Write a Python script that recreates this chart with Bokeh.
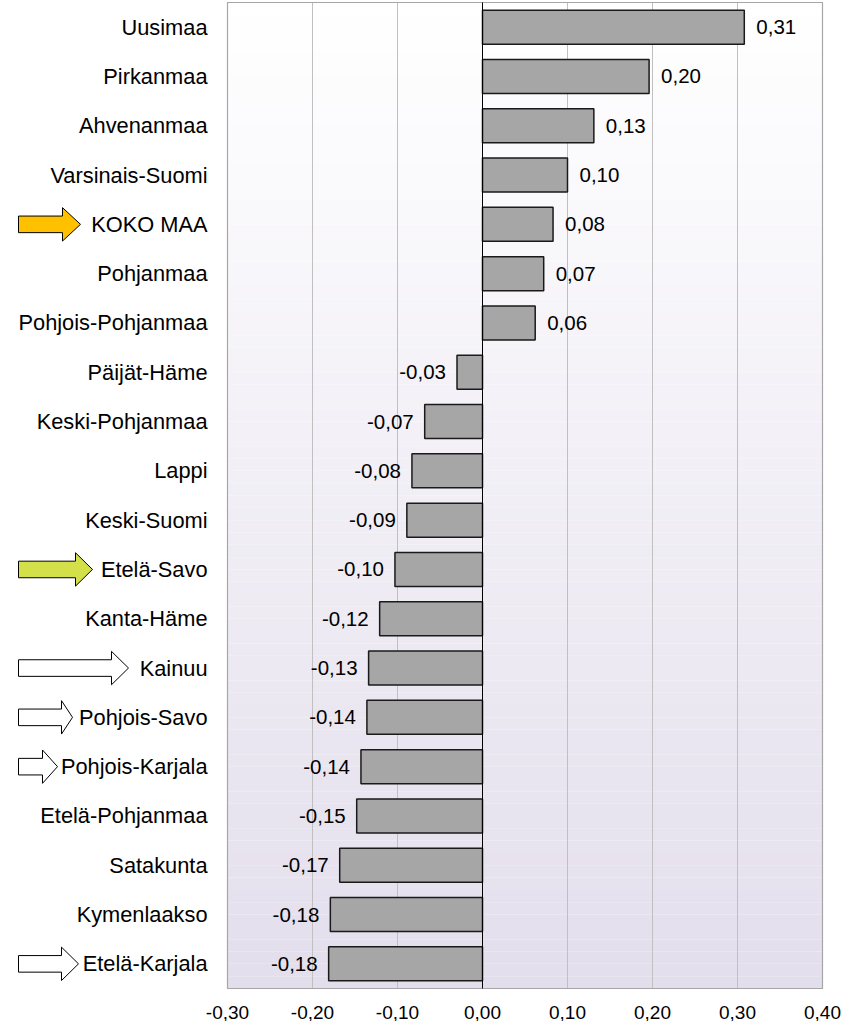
from bokeh.plotting import figure
from bokeh.models import Range1d, FixedTicker, CustomJSTickFormatter, ColumnDataSource
from bokeh.core.properties import value
from bokeh.embed import file_html
from bokeh.resources import INLINE

# ---------------- data ----------------
categories = ["Uusimaa", "Pirkanmaa", "Ahvenanmaa", "Varsinais-Suomi", "KOKO MAA",
              "Pohjanmaa", "Pohjois-Pohjanmaa", "Päijät-Häme", "Keski-Pohjanmaa", "Lappi",
              "Keski-Suomi", "Etelä-Savo", "Kanta-Häme", "Kainuu", "Pohjois-Savo",
              "Pohjois-Karjala", "Etelä-Pohjanmaa", "Satakunta", "Kymenlaakso", "Etelä-Karjala"]
values = [0.308, 0.196, 0.131, 0.100, 0.083, 0.072, 0.062, -0.030, -0.068, -0.083,
          -0.089, -0.103, -0.121, -0.134, -0.136, -0.143, -0.148, -0.168, -0.179, -0.181]
tick_values = [-0.30, -0.20, -0.10, 0.00, 0.10, 0.20, 0.30, 0.40]

arrow_targets = ["KOKO MAA", "Etelä-Savo", "Kainuu", "Pohjois-Savo", "Pohjois-Karjala", "Etelä-Karjala"]
arrow_colors = ["#FFC000", "#D4E04A", "#FFFFFF", "#FFFFFF", "#FFFFFF", "#FFFFFF"]

# ---------------- layout / style ----------------
W, H = 843, 1021
PX_PER_UNIT = 850.0
X0_PX = 227          # canvas x of -0.30
X_MIN, X_MAX = -0.30, 0.40
x_start = X_MIN - X0_PX / PX_PER_UNIT
x_end = x_start + W / PX_PER_UNIT


def px(xc):
    return X_MIN + (xc - X0_PX) / PX_PER_UNIT


arrow_tip_px = [80, 92, 128, 72, 57, 78]
arrow_head_px = [18, 17, 17, 11, 15, 17]
arrow_tail_px = 18

FONT = "Liberation Sans"
n = len(categories)
y_lo, y_hi = -0.5, n - 0.5
ROW_PX = 49.35
FRAME_H = 994.0
top_end = y_lo - 2 / ROW_PX
bot_start = y_hi + (FRAME_H - 989) / ROW_PX

p = figure(width=W, height=H, output_backend="svg", toolbar_location=None,
           x_range=Range1d(x_start, x_end), y_range=Range1d(bot_start, top_end),
           min_border_left=0, min_border_right=0, min_border_top=0, min_border_bottom=0)
p.outline_line_color = None
p.background_fill_color = "white"
p.border_fill_color = "white"
p.xgrid.visible = False
p.ygrid.visible = False
p.yaxis.visible = False

ax = p.xaxis[0]
ax.ticker = FixedTicker(ticks=tick_values)
ax.formatter = CustomJSTickFormatter(code="return tick.toFixed(2).replace('.', ',');")
ax.axis_line_color = None
ax.major_tick_line_color = None
ax.minor_tick_line_color = None
ax.major_label_standoff = 6
ax.major_label_text_font = FONT
ax.major_label_text_font_size = "19px"
ax.major_label_text_color = "#000000"

# background gradient of plot area (style)
steps = 80
top_c = (255, 255, 255)
bot_c = (227, 222, 236)
gb, gt, gc = [], [], []
for k in range(steps):
    t0 = y_lo + (y_hi - y_lo) * k / steps
    t1 = y_lo + (y_hi - y_lo) * (k + 1) / steps
    f = (k + 0.5) / steps
    col = tuple(int(round(top_c[j] + (bot_c[j] - top_c[j]) * f)) for j in range(3))
    gb.append(t0)
    gt.append(t1)
    gc.append("#%02x%02x%02x" % col)
p.quad(left=X_MIN, right=X_MAX, bottom=gb, top=gt, fill_color=gc, line_color=None)

# gridlines
p.segment(x0=tick_values, x1=tick_values, y0=[y_lo] * len(tick_values), y1=[y_hi] * len(tick_values),
          line_color="#C0C0C0", line_width=1)

# plot border
p.quad(left=[X_MIN], right=[X_MAX], bottom=[y_lo], top=[y_hi], fill_color=None,
       line_color="#A6A6A6", line_width=1.2)

# bars
idx = list(range(n))
src = ColumnDataSource(dict(y=idx, v=values, cat=categories,
                            lab=[("%.2f" % v).replace(".", ",") for v in values]))
p.hbar(y="y", left=0, right="v", height=0.69, source=src,
       fill_color="#A6A6A6", line_color="#1A1A1A", line_width=1.5)

# zero line
p.segment(x0=[0], x1=[0], y0=[y_lo], y1=[y_hi], line_color="#000000", line_width=1)

# value labels
pos = [i for i in idx if values[i] >= 0]
neg = [i for i in idx if values[i] < 0]
p.text(x=[values[i] for i in pos], y=pos, text=[src.data["lab"][i] for i in pos],
       x_offset=12, text_align="left", text_baseline="middle",
       text_font=value(FONT), text_font_size="20.5px", text_color="#000000")
p.text(x=[values[i] for i in neg], y=neg, text=[src.data["lab"][i] for i in neg],
       x_offset=-11, text_align="right", text_baseline="middle",
       text_font=value(FONT), text_font_size="20.5px", text_color="#000000")

# category labels
p.text(x=[px(207)] * n, y=idx, text=categories, text_align="right", text_baseline="middle",
       text_font=value(FONT), text_font_size="21.8px", text_color="#000000")

# arrows
bh = 8.3 / ROW_PX
hh = 16.7 / ROW_PX
axs, ays = [], []
for name, tip, head in zip(arrow_targets, arrow_tip_px, arrow_head_px):
    i = categories.index(name)
    xt, xh, xtip = px(arrow_tail_px), px(tip - head), px(tip)
    axs.append([xt, xh, xh, xtip, xh, xh, xt])
    ays.append([i - bh, i - bh, i - hh, i, i + hh, i + bh, i + bh])
p.patches(xs=axs, ys=ays, fill_color=arrow_colors, line_color="#000000", line_width=1)

open("out.html", "w").write(file_html(p, INLINE))
